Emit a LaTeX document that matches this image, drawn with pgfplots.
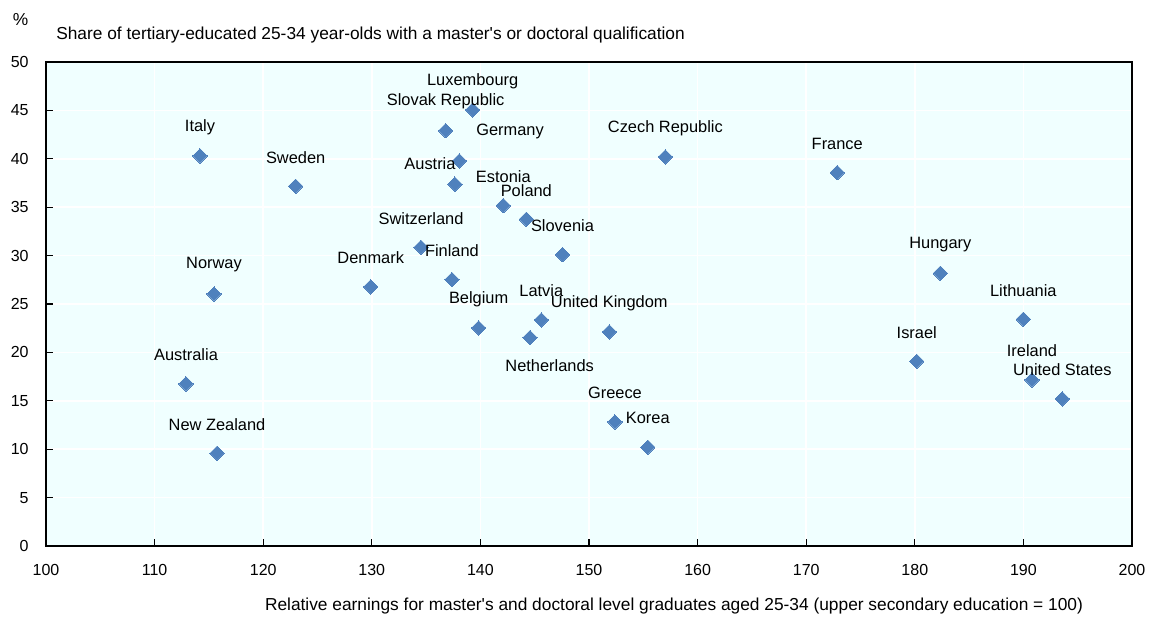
\documentclass[border=0pt]{standalone}
\usepackage{fontspec}
\setmainfont{Liberation Sans}
\usepackage{pgfplots}
\usepackage{pgfplotstable}
\pgfplotsset{compat=1.18}
\definecolor{bgc}{RGB}{240,255,255}
\definecolor{mk}{RGB}{79,129,189}
\pgfplotstableread[col sep=comma]{
x,y,dx,dy,label
114.18,40.30,0,21.75,Italy
122.99,37.17,0,21.75,Sweden
115.47,26.04,0,21.75,Norway
112.89,16.75,0,21.75,Australia
115.75,9.59,0,21.75,New Zealand
129.90,26.77,0,21.75,Denmark
134.53,30.87,0,21.75,Switzerland
137.38,27.52,0,21.75,Finland
139.84,22.53,0,21.75,Belgium
139.29,45.05,0,21.75,Luxembourg
136.80,42.91,0,21.75,Slovak Republic
138.06,39.78,38,22,Germany
137.66,37.38,-18.75,15.2,Austria
142.11,35.17,0,21.75,Estonia
144.23,33.76,0,21.75,Poland
147.56,30.10,0,21.75,Slovenia
145.61,23.36,0,21.75,Latvia
144.57,21.53,14.7,-20.7,Netherlands
151.87,22.12,0,21.75,United Kingdom
152.39,12.82,0,21.75,Greece
155.41,10.21,0,21.75,Korea
157.03,40.20,0,21.75,Czech Republic
172.86,38.57,0,21.75,France
182.35,28.18,0,21.75,Hungary
189.99,23.43,0,21.75,Lithuania
180.18,19.09,0,21.75,Israel
190.79,17.16,0,21.75,Ireland
193.58,15.20,0,21.75,United States
}\datatable
\begin{document}
\fontsize{13}{15}\selectfont
\begin{tikzpicture}
\useasboundingbox (-34.5pt,-54.75pt) rectangle (828pt,409.5pt);
\begin{axis}[
  at={(0pt,0pt)}, anchor=south west, scale only axis,
  width=814.5pt, height=363pt,
  xmin=100, xmax=200, ymin=0, ymax=50,
  xtick={100,110,...,200}, ytick={0,5,...,50},
  axis background/.style={fill=bgc},
  grid=major, major grid style={white, line width=1.1pt},
  axis line style={black, line width=1.2pt},
  tick style={black, line width=0.9pt},
  tick align=inside, major tick length=5pt,
  xtick pos=bottom, ytick pos=left,
  /pgf/number format/assume math mode=true,
  /pgf/number format/1000 sep={},
  ticklabel style={font=\fontsize{12}{14}\selectfont},
  xticklabel style={yshift=-9pt},
  yticklabel style={xshift=-8.5pt},
  clip=false,
]
\addplot[only marks, mark=square*, mark size=3.8pt,
  mark options={rotate=45, fill=mk, draw=mk, line width=0pt},
  visualization depends on={\thisrow{dx}\as\dx},
  visualization depends on={\thisrow{dy}\as\dy},
  nodes near coords, point meta=explicit symbolic,
  every node near coord/.append style={anchor=center, xshift={\dx pt}, yshift={\dy pt}, text=black, inner sep=0pt, font=\fontsize{12.3}{14}\selectfont},
] table[x=x, y=y, meta=label] {\datatable};
\end{axis}
\node[anchor=center, inner sep=0pt] at (-19.1pt,394.7pt) {\%};
\node[anchor=base west, inner sep=0pt] at (7.5pt,380pt) {Share of tertiary-educated 25-34 year-olds with a master\textquotesingle s or doctoral qualification};
\node[anchor=base, inner sep=0pt] at (471pt,-48.5pt) {Relative earnings for master\textquotesingle s and doctoral level graduates aged 25-34 (upper secondary education = 100)};
\end{tikzpicture}
\end{document}
